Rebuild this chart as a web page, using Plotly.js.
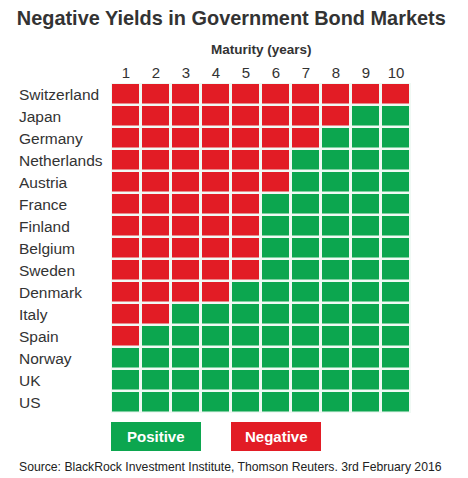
<!DOCTYPE html>
<html>
<head>
<meta charset="utf-8">
<script src="https://cdn.plot.ly/plotly-3.0.1.min.js"></script>
<style>html,body{margin:0;padding:0;background:#fff;}#chart{width:468px;height:478px;}</style>
</head>
<body>
<div id="chart"></div>
<script>
var countries = ["Switzerland","Japan","Germany","Netherlands","Austria","France","Finland","Belgium","Sweden","Denmark","Italy","Spain","Norway","UK","US"];
var maturities = [1,2,3,4,5,6,7,8,9,10];
// number of maturities (from 1 year upward) with negative yields
var negativeUpTo = [10,8,7,6,6,5,5,5,5,4,2,1,0,0,0];
var legendLabels = ["Positive","Negative"];

var RED = "#e21c25", GREEN = "#0ca64f", TXT = "#333333";
var z = countries.map(function(c, i){
  return maturities.map(function(m){ return m <= negativeUpTo[i] ? 1 : 0; });
});

var trace = {
  type: "heatmap",
  x: maturities,
  y: countries,
  z: z,
  zmin: 0, zmax: 1,
  colorscale: [[0, GREEN],[0.5, GREEN],[0.5, RED],[1, RED]],
  showscale: false,
  xgap: 3, ygap: 2.5,
  hoverinfo: "skip"
};

var annotations = countries.map(function(c){
  return {text: c, xref: "paper", yref: "y", x: -0.3133, y: c, xanchor: "left", yanchor: "middle",
          showarrow: false, font: {family: "Liberation Sans, Arial, sans-serif", size: 15.5, color: TXT}};
});
annotations.push({text: "<b>Maturity (years)</b>", xref: "paper", yref: "paper", x: 0.503, y: 1.1,
  xanchor: "center", yanchor: "middle", showarrow: false,
  font: {family: "Liberation Sans, Arial, sans-serif", size: 13.5, color: TXT}});
var legendPos = [[0, 0.3],[0.4, 0.7]];
var legendCols = [GREEN, RED];
var shapes = [];
legendLabels.forEach(function(l, i){
  shapes.push({type: "rect", xref: "paper", yref: "paper", x0: legendPos[i][0], x1: legendPos[i][1],
    y0: -0.1152, y1: -0.0273, fillcolor: legendCols[i], line: {width: 0}});
  annotations.push({text: "<b>" + l + "</b>", xref: "paper", yref: "paper",
    x: (legendPos[i][0] + legendPos[i][1]) / 2, y: -0.0712, xanchor: "center", yanchor: "middle",
    showarrow: false, font: {family: "Liberation Sans, Arial, sans-serif", size: 15, color: "#ffffff"}});
});
annotations.push({text: "Source: BlackRock Investment Institute, Thomson Reuters. 3rd February 2016",
  xref: "paper", yref: "paper", x: -0.3133, y: -0.1636, xanchor: "left", yanchor: "middle", showarrow: false,
  font: {family: "Liberation Sans, Arial, sans-serif", size: 12.2, color: "#222222"}});

var layout = {
  width: 468, height: 478,
  margin: {l: 111, r: 57, t: 83, b: 65, pad: 0},
  paper_bgcolor: "#ffffff",
  plot_bgcolor: "#f0f9f4",
  title: {text: "<b>Negative Yields in Government Bond Markets</b>", x: 0.036, xanchor: "left",
    xref: "container", yref: "container", y: 0.962, yanchor: "middle",
    font: {family: "Liberation Sans, Arial, sans-serif", size: 19.9, color: TXT}},
  xaxis: {side: "top", range: [0.5, 10.5], tickvals: maturities, ticktext: maturities.map(String),
    showgrid: false, zeroline: false, showline: false, ticks: "", ticklabelstandoff: 1,
    tickfont: {family: "Liberation Sans, Arial, sans-serif", size: 15, color: TXT}, fixedrange: true},
  yaxis: {autorange: "reversed", showticklabels: false, showgrid: false, zeroline: false, ticks: "",
    type: "category", fixedrange: true},
  shapes: shapes,
  annotations: annotations,
  showlegend: false
};
Plotly.newPlot("chart", [trace], layout, {displayModeBar: false, staticPlot: true});
</script>
</body>
</html>
